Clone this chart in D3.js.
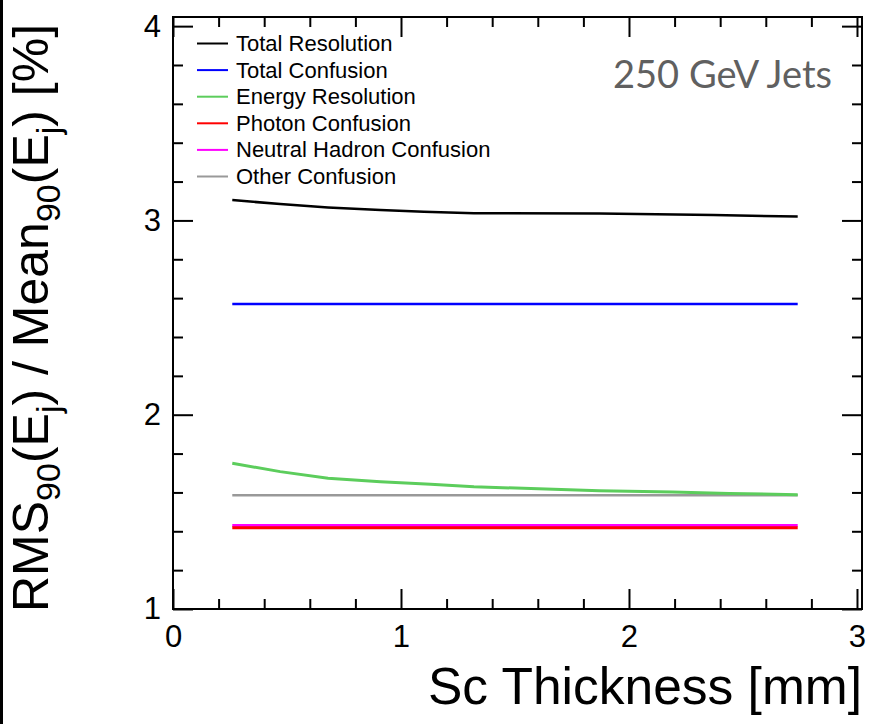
<!DOCTYPE html>
<meta charset="utf-8">

<style>
body { margin: 0; background: #fff; }
.axis text { font-family: "Liberation Sans", Arial, sans-serif; fill: #000; }
.legend text { font-family: "Liberation Sans", Arial, sans-serif; fill: #000; }
.title text { font-family: "Liberation Sans", Arial, sans-serif; fill: #000; }
</style>

<svg class="chart"></svg>

<script src="https://d3js.org/d3.v7.min.js"></script>
<script>

  // Sc thickness [mm] sampled along each curve
  var thickness       = [0.26, 0.47, 0.68, 0.91, 1.10, 1.32, 1.87, 2.37, 2.74];
  var totalResolution = [3.105, 3.084, 3.067, 3.054, 3.045, 3.037, 3.036, 3.028, 3.020];
  var energyThickness = [0.26, 0.47, 0.68, 0.91, 1.13, 1.32, 1.87, 2.19, 2.44, 2.74];
  var energyResolution = [1.750, 1.707, 1.673, 1.655, 1.642, 1.629, 1.609, 1.602, 1.595, 1.588];
  var flatThickness   = [0.26, 2.74];
  var totalConfusion  = [2.570, 2.570];
  var otherConfusion  = [1.585, 1.585];
  var neutralConfusion = [1.430, 1.430];
  var photonConfusion = [1.418, 1.418];

  var seriesNames  = ["Total Resolution", "Total Confusion", "Energy Resolution",
                      "Photon Confusion", "Neutral Hadron Confusion", "Other Confusion"];
  var seriesColors = ["#000000", "#0000ff", "#5ccd5c", "#ff0000", "#ff00ff", "#999999"];

  var xMajor = [0, 1, 2, 3];
  var yMajor = [1, 2, 3, 4];

  var series = [
    { name: seriesNames[5], color: seriesColors[5], x: flatThickness, y: otherConfusion, w: 2.5 },
    { name: seriesNames[4], color: seriesColors[4], x: flatThickness, y: neutralConfusion, w: 3 },
    { name: seriesNames[3], color: seriesColors[3], x: flatThickness, y: photonConfusion, w: 3 },
    { name: seriesNames[2], color: seriesColors[2], x: energyThickness, y: energyResolution, w: 3 },
    { name: seriesNames[1], color: seriesColors[1], x: flatThickness, y: totalConfusion, w: 2.5 },
    { name: seriesNames[0], color: seriesColors[0], x: thickness, y: totalResolution, w: 2.5 }
  ];

  var outerWidth  = 869;
  var outerHeight = 724;

  var frame = { left: 173, right: 862, top: 17, bottom: 609 };

  var xScale = d3.scaleLinear()
      .domain([0, 3.022])
      .range([frame.left, frame.right]);

  var yScale = d3.scaleLinear()
      .domain([1, 4.047])
      .range([frame.bottom, frame.top]);

  var xMinor = d3.range(0, 3.01, 0.2).map(function(d) { return +d.toFixed(1); })
      .filter(function(d) { return xMajor.indexOf(d) < 0; });
  var yMinor = d3.range(1, 4.01, 0.2).map(function(d) { return +d.toFixed(1); })
      .filter(function(d) { return yMajor.indexOf(d) < 0; });

  var svg = d3.select(".chart")
      .attr("width", outerWidth)
      .attr("height", outerHeight);

  svg.append("rect")
      .attr("width", outerWidth)
      .attr("height", outerHeight)
      .attr("fill", "#fff");

  svg.append("rect")
      .attr("x", 0)
      .attr("y", 0)
      .attr("width", 3)
      .attr("height", outerHeight)
      .attr("fill", "#000");

  // ticks on all four sides, pointing inwards
  function addAxis(axis, transform, labels) {
    var g = svg.append("g")
        .attr("class", "axis")
        .attr("transform", transform)
        .call(axis);
    g.select(".domain").remove();
    g.selectAll("line").attr("stroke", "#000").attr("stroke-width", 2);
    if (!labels) g.selectAll("text").remove();
    return g;
  }

  var fmt = d3.format("d");

  addAxis(d3.axisBottom(xScale).tickValues(xMajor).tickSize(-20).tickSizeOuter(0).tickPadding(16).tickFormat(fmt),
          "translate(0," + frame.bottom + ")", true)
      .selectAll("text").style("font-size", "31px");
  addAxis(d3.axisBottom(xScale).tickValues(xMinor).tickSize(-10).tickSizeOuter(0),
          "translate(0," + frame.bottom + ")", false);
  addAxis(d3.axisTop(xScale).tickValues(xMajor).tickSize(-20).tickSizeOuter(0),
          "translate(0," + frame.top + ")", false);
  addAxis(d3.axisTop(xScale).tickValues(xMinor).tickSize(-10).tickSizeOuter(0),
          "translate(0," + frame.top + ")", false);

  addAxis(d3.axisLeft(yScale).tickValues(yMajor).tickSize(-20).tickSizeOuter(0).tickPadding(12).tickFormat(fmt),
          "translate(" + frame.left + ",0)", true)
      .selectAll("text").style("font-size", "31px");
  addAxis(d3.axisLeft(yScale).tickValues(yMinor).tickSize(-10).tickSizeOuter(0),
          "translate(" + frame.left + ",0)", false);
  addAxis(d3.axisRight(yScale).tickValues(yMajor).tickSize(-20).tickSizeOuter(0),
          "translate(" + frame.right + ",0)", false);
  addAxis(d3.axisRight(yScale).tickValues(yMinor).tickSize(-10).tickSizeOuter(0),
          "translate(" + frame.right + ",0)", false);

  svg.append("rect")
      .attr("x", frame.left)
      .attr("y", frame.top)
      .attr("width", frame.right - frame.left)
      .attr("height", frame.bottom - frame.top)
      .attr("fill", "none")
      .attr("stroke", "#000")
      .attr("stroke-width", 2);

  var line = d3.line()
      .x(function(d) { return xScale(d[0]); })
      .y(function(d) { return yScale(d[1]); });

  svg.append("g")
      .attr("class", "curves")
    .selectAll("path")
      .data(series)
    .enter().append("path")
      .attr("d", function(s) { return line(d3.zip(s.x, s.y)); })
      .attr("fill", "none")
      .attr("stroke", function(s) { return s.color; })
      .attr("stroke-width", function(s) { return s.w; });

  var legend = svg.append("g")
      .attr("class", "legend")
      .attr("transform", "translate(197,43.5)");

  var rows = legend.selectAll("g")
      .data(seriesNames)
    .enter().append("g")
      .attr("transform", function(d, i) { return "translate(0," + (i * 26.6) + ")"; });

  rows.append("line")
      .attr("x1", 0)
      .attr("x2", 31)
      .attr("stroke", function(d, i) { return seriesColors[i]; })
      .attr("stroke-width", 2);

  rows.append("text")
      .attr("x", 39)
      .attr("y", 7.5)
      .style("font-size", "22px")
      .text(function(d) { return d; });

  svg.append("text")
      .attr("x", 832)
      .attr("y", 88)
      .attr("text-anchor", "end")
      .style("font-family", "Lato, 'Open Sans', sans-serif")
      .style("font-size", "38px")
      .style("fill", "#606060")
      .text("250 GeV Jets");

  var title = svg.append("g").attr("class", "title");

  title.append("text")
      .attr("x", 862)
      .attr("y", 704)
      .attr("text-anchor", "end")
      .style("font-size", "51.5px")
      .text("Sc Thickness [mm]");

  var yLabel = title.append("text")
      .attr("transform", "translate(48,612) rotate(-90)")
      .style("font-size", "50px");

  var parts = [
    ["RMS", false], ["90", true], ["(E", false], ["j", true], [") / Mean", false],
    ["90", true], ["(E", false], ["j", true], [") [%]", false]
  ];

  parts.forEach(function(p) {
    yLabel.append("tspan")
        .attr("baseline-shift", p[1] ? "-12" : null)
        .style("font-size", p[1] ? "34px" : null)
        .text(p[0]);
  });

</script>
